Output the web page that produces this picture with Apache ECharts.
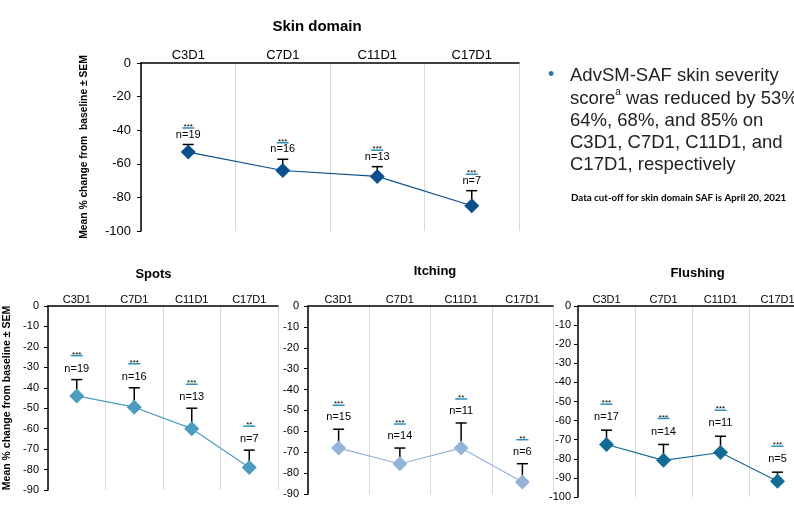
<!DOCTYPE html>
<html><head><meta charset="utf-8">
<script src="https://cdn.jsdelivr.net/npm/echarts@6/dist/echarts.min.js"></script>
<style>html,body{margin:0;padding:0;background:#fff;overflow:hidden}#c{width:820px;height:519px}</style>
</head><body><div id="c"></div>
<script>
const categories = ['C3D1', 'C7D1', 'C11D1', 'C17D1'];

const skinMean  = [-53, -64, -67.5, -85];
const skinUpper = [-48.5, -57.3, -61.7, -76];
const skinN     = ['n=19', 'n=16', 'n=13', 'n=7'];
const skinStars = ['***', '***', '***', '***'];

const spotsMean  = [-44, -49.5, -60, -79];
const spotsUpper = [-36, -40, -50, -70.5];
const spotsN     = ['n=19', 'n=16', 'n=13', 'n=7'];
const spotsStars = ['***', '***', '***', '**'];

const itchMean  = [-68, -75.5, -68, -84.3];
const itchUpper = [-59, -68, -56, -75.5];
const itchN     = ['n=15', 'n=14', 'n=11', 'n=6'];
const itchStars = ['***', '***', '**', '**'];

const flushMean  = [-72.5, -80.8, -76.7, -91.8];
const flushUpper = [-65, -72.5, -68.2, -87];
const flushN     = ['n=17', 'n=14', 'n=11', 'n=5'];
const flushStars = ['***', '***', '***', '***'];

const FONT = 'Liberation Sans, Arial, sans-serif';

const panels = [
  {title: 'Skin domain', mean: skinMean, upper: skinUpper, n: skinN, stars: skinStars, color: '#0B4F8C',
   grid: {left: 141, top: 63, width: 378, height: 168}, min: -100, interval: 20, fs: 13, titleFs: 15,
   titleTop: 14, titleX: 312, offN: 10, offL: 6.5, yName: 'Mean % change from  baseline ± SEM', yNameFs: 10.3, yNameGap: 52, labMargin: 10},
  {title: 'Spots', mean: spotsMean, upper: spotsUpper, n: spotsN, stars: spotsStars, color: '#4B9CBF',
   grid: {left: 48, top: 306, width: 230, height: 184}, min: -90, interval: 10, fs: 11, titleFs: 13,
   titleTop: 263, titleX: 148.5, offN: 11, offL: 13, yName: 'Mean % change from baseline ± SEM', yNameFs: 10.5, yNameGap: 35, labMargin: 9},
  {title: 'Itching', mean: itchMean, upper: itchUpper, n: itchN, stars: itchStars, color: '#93B3D9',
   grid: {left: 308, top: 306, width: 245, height: 188}, min: -90, interval: 10, fs: 11, titleFs: 13,
   titleTop: 260, titleX: 430, offN: 12, offL: 12, yName: '', labMargin: 9},
  {title: 'Flushing', mean: flushMean, upper: flushUpper, n: flushN, stars: flushStars, color: '#126B95',
   grid: {left: 578, top: 306, width: 228, height: 191}, min: -100, interval: 10, fs: 11, titleFs: 13,
   titleTop: 262, titleX: 692.5, offN: 13, offL: 13, yName: '', labMargin: 7}
];

const grids = [], xAxes = [], yAxes = [], series = [], titles = [];
panels.forEach((p, k) => {
  grids.push(Object.assign({containLabel: false}, p.grid));
  titles.push({text: p.title, left: p.titleX, top: p.titleTop, textAlign: 'center',
    textStyle: {fontFamily: FONT, fontSize: p.titleFs, fontWeight: 'bold', color: '#000'}});
  xAxes.push({type: 'category', gridIndex: k, position: 'top', data: categories,
    axisLine: {onZero: false, lineStyle: {color: '#000', width: 1.5}},
    axisTick: {show: false},
    axisLabel: {fontFamily: FONT, fontSize: p.fs, color: '#000', margin: 1, interval: 0},
    splitLine: {show: true, lineStyle: {color: '#d9d9d9', width: 1}}});
  yAxes.push({type: 'value', gridIndex: k, min: p.min, max: 0, interval: p.interval,
    name: p.yName, nameLocation: 'middle', nameGap: p.yNameGap, nameRotate: 90, nameMoveOverlap: false,
    nameTextStyle: {fontFamily: FONT, fontSize: p.yNameFs, fontWeight: 'bold', color: '#000'},
    axisLine: {show: true, lineStyle: {color: '#000', width: 1.5}},
    axisTick: {show: true, length: 4, lineStyle: {color: '#000'}},
    axisLabel: {fontFamily: FONT, fontSize: p.fs, color: '#000', margin: p.labMargin},
    splitLine: {show: false}});
  series.push({type: 'custom', xAxisIndex: k, yAxisIndex: k, z: 1,
    data: p.mean.map((m, i) => [i, m, p.upper[i]]),
    renderItem: function (params, api) {
      const i = params.dataIndex;
      const p0 = api.coord([api.value(0), api.value(1)]);
      const p1 = api.coord([api.value(0), api.value(2)]);
      const cap = 5.5;
      const nY = p1[1] - p.offN;
      const lY = nY - p.offL;
      return {type: 'group', children: [
        {type: 'line', shape: {x1: p0[0], y1: p0[1], x2: p1[0], y2: p1[1]}, style: {stroke: '#000', lineWidth: 1.5}},
        {type: 'line', shape: {x1: p1[0] - cap, y1: p1[1], x2: p1[0] + cap, y2: p1[1]}, style: {stroke: '#000', lineWidth: 1.5}},
        {type: 'text', style: {text: p.n[i], x: p1[0], y: nY, textAlign: 'center', textVerticalAlign: 'middle',
          fontFamily: FONT, fontSize: 11, fill: '#000'}},
        {type: 'line', shape: {x1: p1[0] - 6, y1: lY, x2: p1[0] + 6, y2: lY}, style: {stroke: '#2E8FB8', lineWidth: 1.5}},
        {type: 'text', style: {text: p.stars[i], x: p1[0], y: lY - 1, textAlign: 'center', textVerticalAlign: 'middle',
          fontFamily: FONT, fontSize: 8, fill: '#000'}}
      ]};
    }});
  series.push({type: 'line', xAxisIndex: k, yAxisIndex: k, z: 2, data: p.mean,
    symbol: 'diamond', symbolSize: 15,
    lineStyle: {color: p.color, width: 1.2}, itemStyle: {color: p.color}});
});

const chart = echarts.init(document.getElementById('c'));
chart.setOption({
  animation: false,
  title: titles,
  grid: grids, xAxis: xAxes, yAxis: yAxes, series: series,
  graphic: [
    {type: 'text', left: 548, top: 66, style: {text: '•', fontFamily: FONT, fontSize: 18, fill: '#1F7BA8'}},
    {type: 'text', x: 570, y: 65, style: {
      text: '{t|AdvSM-SAF skin severity}\n{t|score}{s|a}{t| was reduced by 53%}\n{t|64%, 68%, and 85% on}\n{t|C3D1, C7D1, C11D1, and}\n{t|C17D1, respectively}',
      rich: {
        t: {fontFamily: FONT, fontSize: 18.5, lineHeight: 22.3, fill: '#222'},
        s: {fontFamily: FONT, fontSize: 10, lineHeight: 22.3, verticalAlign: 'top', padding: [0, 0, 8, 0], fill: '#222'}
      }}},
    {type: 'text', x: 571, y: 193, style: {text: 'Data cut-off for skin domain SAF is April 20, 2021',
      fontFamily: 'Lato, sans-serif', fontSize: 9.75, fontWeight: 'bold', fill: '#000'}}
  ]
});
</script></body></html>
